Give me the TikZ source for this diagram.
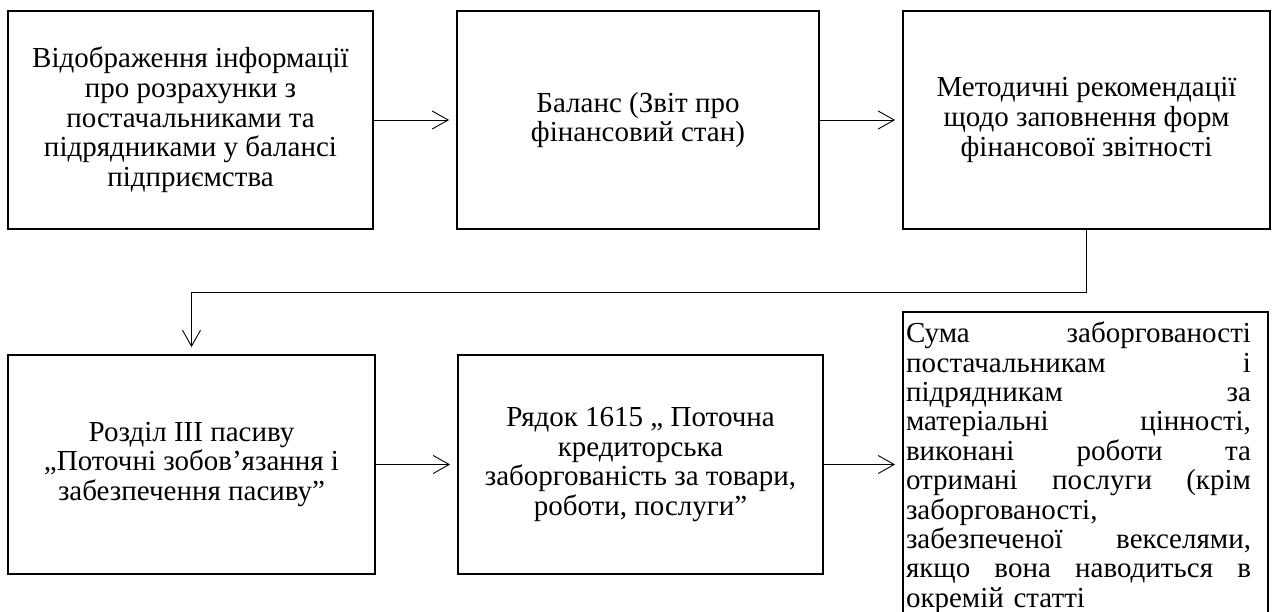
\documentclass[tikz,border=0pt]{standalone}
\usepackage{fontspec}
\setmainfont{Liberation Serif}
\usetikzlibrary{arrows.meta}
\newcommand{\jline}[1]{\makebox[345pt][l]{#1}}
\begin{document}
\begin{tikzpicture}[x=1pt,y=-1pt,
  box/.style={draw, line width=1.8pt, inner sep=0pt, align=center,
    minimum height=218pt, font=\fontsize{29}{29.7}\selectfont},
  arr/.style={-{Straight Barb[length=16pt,width=18pt,line width=0.9pt]}, line width=0.9pt, shorten >=7pt}]
\useasboundingbox (0,0) rectangle (1273,611);
\clip (0,0) rectangle (1273,611);
\node[box, minimum width=365pt] (b1) at (190.5,120) {Відображення інформації\\про розрахунки з\\постачальниками та\\підрядниками у балансі\\підприємства};
\node[box, minimum width=362pt] (b2) at (638,120) {Баланс (Звіт про\\фінансовий стан)};
\node[box, minimum width=367pt] (b3) at (1086.5,120) {Методичні рекомендації\\щодо заповнення форм\\фінансової звітності};
\node[box, minimum width=367pt, minimum height=219pt] (b4) at (191.5,464.5) {Розділ III пасиву\\„Поточні зобов’язання і\\забезпечення пасиву”};
\node[box, minimum width=365pt, minimum height=219pt] (b5) at (640.5,464.5) {Рядок 1615 „ Поточна\\кредиторська\\заборгованість за товари,\\роботи, послуги”};
\node[draw, line width=1.8pt, anchor=north, text width=359pt, inner xsep=3pt, inner ysep=10pt,
  align=left, font=\fontsize{29}{29.4}\selectfont] (b6) at (1085.5,311)
  {\strut\jline{Сума \hfill заборгованості}\\
   \jline{постачальникам \hfill і}\\
   \jline{підрядникам \hfill за}\\
   \jline{матеріальні \hfill цінності,}\\
   \jline{виконані \hfill роботи \hfill та}\\
   \jline{отримані \hfill послуги \hfill (крім}\\
   заборгованості,\\
   \jline{забезпеченої \hfill векселями,}\\
   \jline{якщо \hfill вона \hfill наводиться \hfill в}\\
   окремій статті\strut};
\coordinate (busy) at (0,292);
\draw[arr] (b1.east) -- (b2.west);
\draw[arr] (b2.east) -- (b3.west);
\draw[arr] (b3.south) -- (b3.south |- busy) -- (b4.north |- busy) -- (b4.north);
\draw[arr] (b4.east) -- (b5.west);
\draw[arr] (b5.east) -- (b5.east -| b6.west);
\end{tikzpicture}
\end{document}
